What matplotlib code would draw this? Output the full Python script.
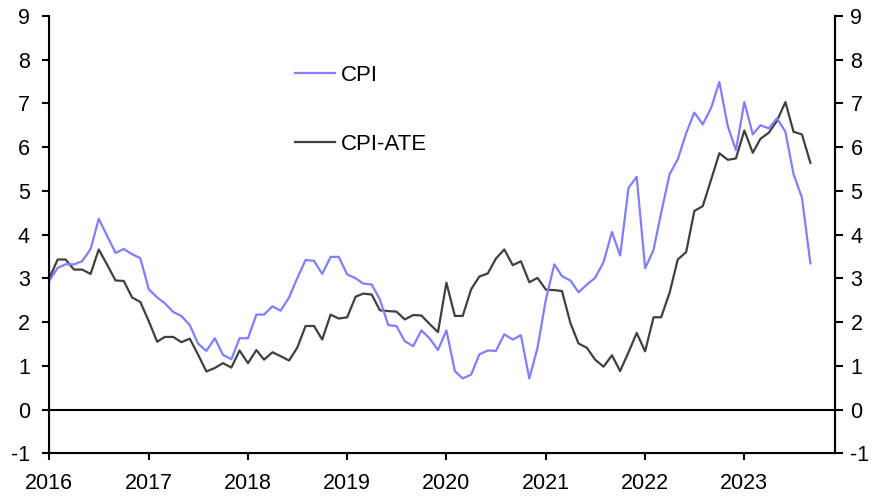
import matplotlib
matplotlib.use('Agg')
import matplotlib.pyplot as plt
import matplotlib.dates as mdates
import pandas as pd

plt.rcParams['font.family'] = ['Liberation Sans', 'DejaVu Sans']
plt.rcParams['axes.unicode_minus'] = False

# ── data (y/y %, monthly, Jan 2016 - Sep 2023) ──
cpi = [2.94, 3.24, 3.32, 3.32, 3.39, 3.67, 4.36, 3.97, 3.58, 3.67, 3.55, 3.46,
       2.75, 2.56, 2.43, 2.23, 2.14, 1.93, 1.51, 1.34, 1.63, 1.25, 1.15, 1.63,
       1.63, 2.17, 2.17, 2.36, 2.26, 2.56, 3.00, 3.42, 3.40, 3.10, 3.49, 3.49,
       3.09, 3.00, 2.88, 2.86, 2.52, 1.93, 1.91, 1.56, 1.45, 1.81, 1.62, 1.36,
       1.81, 0.88, 0.71, 0.80, 1.26, 1.35, 1.34, 1.72, 1.60, 1.70, 0.71, 1.41,
       2.52, 3.32, 3.05, 2.95, 2.68, 2.86, 3.01, 3.37, 4.06, 3.52, 5.07, 5.32,
       3.23, 3.65, 4.50, 5.38, 5.72, 6.32, 6.79, 6.52, 6.90, 7.49, 6.48, 5.93,
       7.03, 6.29, 6.50, 6.43, 6.66, 6.35, 5.38, 4.84, 3.34]
cpi_ate = [3.00, 3.43, 3.43, 3.20, 3.20, 3.10, 3.66, 3.31, 2.95, 2.94, 2.56, 2.46,
           2.02, 1.55, 1.66, 1.66, 1.54, 1.62, 1.26, 0.87, 0.95, 1.06, 0.96, 1.35,
           1.06, 1.36, 1.14, 1.31, 1.22, 1.12, 1.41, 1.91, 1.91, 1.60, 2.17, 2.08,
           2.11, 2.58, 2.65, 2.63, 2.27, 2.25, 2.24, 2.06, 2.16, 2.15, 1.95, 1.77,
           2.90, 2.14, 2.14, 2.75, 3.04, 3.11, 3.45, 3.66, 3.30, 3.39, 2.91, 3.01,
           2.74, 2.73, 2.71, 1.98, 1.51, 1.41, 1.14, 0.98, 1.24, 0.88, 1.31, 1.75,
           1.33, 2.11, 2.11, 2.67, 3.43, 3.60, 4.54, 4.65, 5.26, 5.86, 5.71, 5.74,
           6.38, 5.87, 6.19, 6.33, 6.60, 7.03, 6.35, 6.29, 5.64]
dates = pd.date_range('2016-01-01', periods=len(cpi), freq='MS')
years = list(range(2016, 2024))
yticks = list(range(-1, 10))

# ── figure ──
fig = plt.figure(figsize=(8.86, 4.97), dpi=100)
ax = fig.add_axes([0.0556, 0.088, 0.887, 0.880])

ax.axhline(0, color='black', lw=1.5, zorder=1)
ax.plot(dates, cpi, color='#7f7fff', lw=1.6, label='CPI', zorder=3)
ax.plot(dates, cpi_ate, color='#404040', lw=1.6, label='CPI-ATE', zorder=2)

ax.set_ylim(-1, 9)
ax.set_xlim(pd.Timestamp('2016-01-01'), pd.Timestamp('2023-12-01'))
ax.set_yticks(yticks)
ax.set_xticks([pd.Timestamp(f'{y}-01-01') for y in years])
ax.xaxis.set_major_formatter(mdates.DateFormatter('%Y'))

for s in ['left', 'right', 'bottom']:
    ax.spines[s].set_linewidth(1.5)
ax.spines['top'].set_visible(False)

ax.tick_params(axis='y', direction='out', length=5, width=1.5, labelsize=15.5, pad=9)
ax.tick_params(axis='x', direction='out', length=5, width=1.5, labelsize=15.5, pad=9)

# right-hand axis, same scale
ax2 = ax.twinx()
ax2.set_ylim(ax.get_ylim())
ax2.set_yticks(yticks)
ax2.spines['top'].set_visible(False)
ax2.spines['right'].set_linewidth(1.5)
ax2.tick_params(axis='y', direction='out', length=6, width=1.5, labelsize=15.5, pad=5)

ax.legend(loc='upper left', bbox_to_anchor=(295 / 886, 1 - 65 / 497),
          bbox_transform=fig.transFigure, frameon=False, fontsize=16,
          handlelength=1.8, handletextpad=0.25, labelspacing=2.15, borderpad=0,
          borderaxespad=0)

fig.savefig('out.png', dpi=100)
